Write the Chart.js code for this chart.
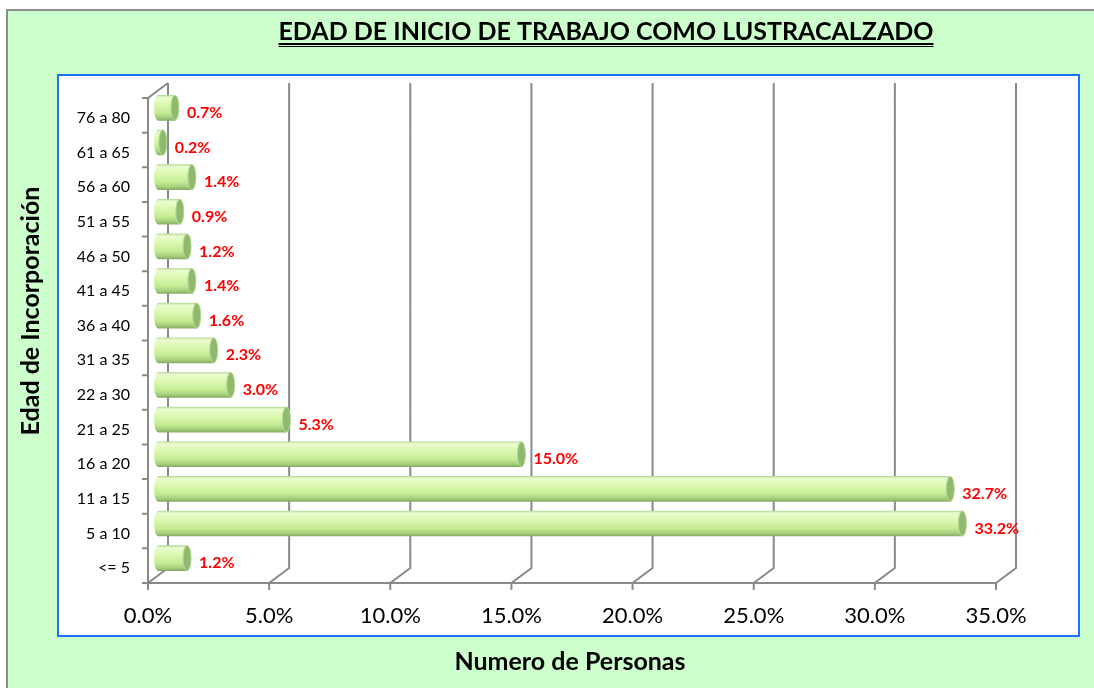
<!DOCTYPE html>
<html>
<head>
<meta charset="utf-8">
<script src="https://cdn.jsdelivr.net/npm/chart.js@4.4.1/dist/chart.umd.min.js"></script>
<style>
  html, body { margin: 0; padding: 0; background: #ffffff; }
  #wrap { position: relative; width: 1094px; height: 688px; }
  canvas { display: block; }
</style>
</head>
<body>
<div id="wrap"><canvas id="c" width="1094" height="688"></canvas></div>
<script>
const categories = ["<= 5", "5 a 10", "11 a 15", "16 a 20", "21 a 25", "22 a 30", "31 a 35", "36 a 40", "41 a 45", "46 a 50", "51 a 55", "56 a 60", "61 a 65", "76 a 80"];
const percentValues = [1.2, 33.2, 32.7, 15.0, 5.3, 3.0, 2.3, 1.6, 1.4, 1.2, 0.9, 1.4, 0.2, 0.7];
const xTickValues = [0, 5, 10, 15, 20, 25, 30, 35];
const chartTitle = "EDAD DE INICIO DE TRABAJO COMO LUSTRACALZADO";
const xAxisTitle = "Numero de Personas";
const yAxisTitle = "Edad de Incorporación";

const FONT = "Lato, 'Open Sans', sans-serif";
const DX = 10, DY = 7.5;          // half depth offset of the 3D box
const BAR_H = 25;                  // cylinder thickness
const RX = 4;                      // ellipse half-width of cylinder ends
const GRID = '#8a8a8a';

function bodyGradient(c, y) {
  const g = c.createLinearGradient(0, y - BAR_H / 2, 0, y + BAR_H / 2);
  g.addColorStop(0, '#b9d99a');
  g.addColorStop(0.08, '#eafcd0');
  g.addColorStop(0.35, '#dcf8b2');
  g.addColorStop(0.7, '#c6eb94');
  g.addColorStop(0.9, '#a3cc7b');
  g.addColorStop(1, '#85ad63');
  return g;
}

const backgroundPlugin = {
  id: 'bg',
  beforeDraw(chart) {
    const c = chart.ctx;
    c.save();
    c.fillStyle = '#ffffff';
    c.fillRect(0, 0, 1094, 688);
    c.fillStyle = '#ccffcc';
    c.fillRect(7, 10, 1087, 678);
    c.strokeStyle = '#8c8c8c';
    c.lineWidth = 2;
    c.beginPath();
    c.moveTo(7, 688); c.lineTo(7, 10); c.lineTo(1094, 10);
    c.stroke();
    c.fillStyle = '#ffffff';
    c.fillRect(58, 75, 1021, 561);
    c.strokeStyle = '#1a73ff';
    c.lineWidth = 2;
    c.strokeRect(58, 75, 1021, 561);

    // main title with underline
    c.fillStyle = '#000000';
    c.font = "bold 25px " + FONT;
    c.textAlign = 'center';
    c.textBaseline = 'middle';
    c.fillText(chartTitle, 606, 32);
    const w = c.measureText(chartTitle).width;
    c.fillRect(606 - w / 2, 43, w, 2);
    c.fillRect(606 - w / 2, 46, w, 1);

    // axis titles
    c.font = "bold 25px " + FONT;
    c.fillText(xAxisTitle, 570, 662);
    c.save();
    c.translate(31, 311);
    c.rotate(-Math.PI / 2);
    c.fillText(yAxisTitle, 0, 0);
    c.restore();
    c.restore();
  },
  beforeDatasetsDraw(chart) {
    const c = chart.ctx;
    const xs = chart.scales.x, ys = chart.scales.y;
    const top = ys.top, bottom = ys.bottom;
    c.save();
    c.strokeStyle = GRID;
    c.lineWidth = 2;
    c.beginPath();
    // back wall gridlines + floor diagonals + front ticks
    xTickValues.forEach(v => {
      const px = xs.getPixelForValue(v);
      c.moveTo(px + DX, top - DY);
      c.lineTo(px + DX, bottom - DY);
      c.lineTo(px - DX, bottom + DY);
      c.lineTo(px - DX, bottom + DY + 7);
    });
    // front floor edge
    c.moveTo(xs.getPixelForValue(0) - DX, bottom + DY);
    c.lineTo(xs.getPixelForValue(35) - DX, bottom + DY);
    // left side wall front edge + top diagonal
    const lx = xs.getPixelForValue(0);
    c.moveTo(lx - DX, bottom + DY);
    c.lineTo(lx - DX, top + DY);
    c.lineTo(lx + DX, top - DY);
    // category ticks on front axis
    const n = categories.length;
    for (let k = 0; k <= n; k++) {
      const py = top + DY + (bottom - top) * k / n;
      c.moveTo(lx - DX, py);
      c.lineTo(lx - DX - 6, py);
    }
    c.stroke();

    // left rounded ends of cylinders
    const meta = chart.getDatasetMeta(0);
    meta.data.forEach(el => {
      c.fillStyle = bodyGradient(c, el.y);
      c.beginPath();
      c.ellipse(el.base, el.y, RX, BAR_H / 2, 0, 0, Math.PI * 2);
      c.fill();
    });
    c.restore();
  },
  afterDatasetsDraw(chart) {
    const c = chart.ctx;
    const meta = chart.getDatasetMeta(0);
    c.save();
    meta.data.forEach((el, i) => {
      // right cap
      c.beginPath();
      c.ellipse(el.x, el.y, RX, BAR_H / 2, 0, 0, Math.PI * 2);
      c.fillStyle = '#8fba6d';
      c.fill();
      c.strokeStyle = '#b4d896';
      c.lineWidth = 1;
      c.stroke();
      // value label
      c.fillStyle = '#ff0000';
      c.font = "bold 16px " + FONT;
      c.textAlign = 'left';
      c.textBaseline = 'middle';
      c.fillText(percentValues[i].toFixed(1) + '%', el.x + 12, el.y + 5);
    });
    c.restore();
  }
};

new Chart(document.getElementById('c'), {
  type: 'bar',
  data: {
    labels: categories,
    datasets: [{
      data: percentValues,
      barThickness: BAR_H,
      borderWidth: 0,
      backgroundColor: (ctx) => {
        const chart = ctx.chart;
        if (!chart.chartArea || ctx.type !== 'data') return '#d4f5a6';
        const y = chart.scales.y.getPixelForValue(ctx.dataIndex);
        return bodyGradient(chart.ctx, y);
      }
    }]
  },
  options: {
    indexAxis: 'y',
    responsive: false,
    animation: false,
    events: [],
    layout: { padding: { left: 0, right: 88, top: 90.5, bottom: 0 } },
    plugins: { legend: { display: false }, tooltip: { enabled: false }, title: { display: false } },
    scales: {
      x: {
        type: 'linear',
        min: 0, max: 35,
        afterFit(scale) { scale.height = 112.5; },
        afterBuildTicks(scale) { scale.ticks = xTickValues.map(v => ({ value: v })); },
        grid: { display: false, drawTicks: false },
        border: { display: false },
        ticks: {
          color: '#000000',
          font: { family: FONT, size: 22 },
          padding: 27,
          labelOffset: -10,
          maxRotation: 0,
          callback: (v) => Number(v).toFixed(1) + '%'
        }
      },
      y: {
        type: 'category',
        reverse: true,
        afterFit(scale) { scale.width = 158; },
        grid: { display: false, drawTicks: false },
        border: { display: false },
        ticks: {
          color: '#000000',
          font: { family: FONT, size: 16 },
          padding: 28,
          labelOffset: 10
        }
      }
    }
  },
  plugins: [backgroundPlugin]
});
</script>
</body>
</html>
